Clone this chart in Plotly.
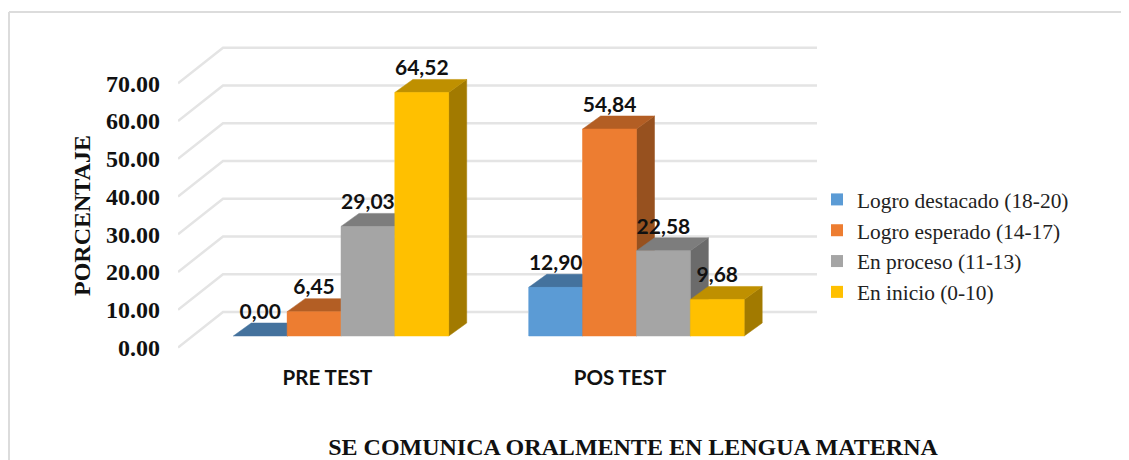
import plotly.graph_objects as go

CATEGORIES = ["PRE TEST", "POS TEST"]
SERIES = ["Logro destacado (18-20)", "Logro esperado (14-17)", "En proceso (11-13)", "En inicio (0-10)"]
V_LOGRO_DESTACADO = [0.00, 12.90]
V_LOGRO_ESPERADO = [6.45, 54.84]
V_EN_PROCESO = [29.03, 22.58]
V_EN_INICIO = [64.52, 9.68]
VALUES = [V_LOGRO_DESTACADO, V_LOGRO_ESPERADO, V_EN_PROCESO, V_EN_INICIO]
Y_TICKS = [0, 10, 20, 30, 40, 50, 60, 70]

FRONT = ["#5b9bd5", "#ed7d31", "#a5a5a5", "#ffc000"]
TOP = ["#44729d", "#b35e24", "#7d7d7d", "#bf9000"]
SIDE = ["#3a6085", "#97511f", "#6b6b6b", "#a27a00"]
GRID = "#e4e4e4"
PAGE = 8                     # the page's body margin
W, H = 1129 - PAGE, 460 - PAGE
fx = lambda p: (p - PAGE) / W
fy = lambda p: 1 - (p - PAGE) / H

# pixel calibration of the plot area (page pixels)
PX_L, PX_R, PX_T, PX_B = 178, 1088, 30, 362
PX_Y0 = 347.5
PX_PER_UNIT = 3.775
PX_PER_CAT = 295.5
PX_CAT0 = 341
xr = [(PX_L - PX_CAT0) / PX_PER_CAT, (PX_R - PX_CAT0) / PX_PER_CAT]
yr = [(PX_Y0 - PX_B) / PX_PER_UNIT, (PX_Y0 - PX_T) / PX_PER_UNIT]
dx_px = lambda p: p / PX_PER_CAT
dy_px = lambda p: p / PX_PER_UNIT

WALL_DX, WALL_DY = dx_px(45), dy_px(35.5)
WALL_R = (817 - PX_CAT0) / PX_PER_CAT
BAR_BASE = dy_px(11.5)
BAR_DX, BAR_DY = dx_px(18), dy_px(13)
BAR_GAP = 0.271
BAR_W = (1 - BAR_GAP) / 4
LABEL_OFF = dy_px(22.5)
TICK_POS = [-0.046, 0.944]

fig = go.Figure()

# real bars (front faces and legend keys)
for s, name in enumerate(SERIES):
    fig.add_trace(go.Bar(
        x=[0, 1], y=VALUES[s], base=BAR_BASE, name=name, legendgroup=name,
        marker=dict(color=FRONT[s], line=dict(width=0)), hoverinfo="skip",
    ))

# gridlines on side wall and back wall
gx, gy = [], []
for t in Y_TICKS:
    gx += [xr[0], xr[0] + WALL_DX, WALL_R, None]
    gy += [t, t + WALL_DY, t + WALL_DY, None]
fig.add_trace(go.Scatter(x=gx, y=gy, mode="lines", line=dict(color=GRID, width=2.5),
                         showlegend=False, hoverinfo="skip"))

def face(xs, ys, color):
    fig.add_trace(go.Scatter(x=xs, y=ys, mode="lines", fill="toself", fillcolor=color,
                             line=dict(color=color, width=0.5), showlegend=False, hoverinfo="skip"))

# 3-D faces, painted left to right so each bar hides the previous bar's side
for c in range(len(CATEGORIES)):
    for s in range(len(SERIES)):
        v = VALUES[s][c]
        x0 = c - 2 * BAR_W + s * BAR_W
        x1 = x0 + BAR_W
        b, t = BAR_BASE, BAR_BASE + v
        face([x1, x1 + BAR_DX, x1 + BAR_DX, x1, x1], [b, b + BAR_DY, t + BAR_DY, t, b], SIDE[s])
        face([x0, x0 + BAR_DX, x1 + BAR_DX, x1, x0], [t, t + BAR_DY, t + BAR_DY, t, t], TOP[s])
        if v > 0:
            face([x0, x1, x1, x0, x0], [b, b, t, t, b], FRONT[s])

# value labels
for c in range(len(CATEGORIES)):
    for s in range(len(SERIES)):
        v = VALUES[s][c]
        fig.add_trace(go.Scatter(
            x=[c - 2 * BAR_W + (s + 0.5) * BAR_W], y=[BAR_BASE + v + LABEL_OFF],
            mode="text", text=[f"{v:.2f}".replace(".", ",")], textposition="middle center",
            textfont=dict(family="Lato", size=21, color="#111111", weight=700),
            showlegend=False, hoverinfo="skip"))

SERIF = "Liberation Serif"
fig.update_layout(
    width=W, height=H, margin=dict(l=0, r=0, t=0, b=0), autosize=False,
    paper_bgcolor="white", plot_bgcolor="white",
    barmode="group", bargap=BAR_GAP, bargroupgap=0,
    xaxis=dict(domain=[fx(PX_L), fx(PX_R)], range=xr, tickmode="array", tickvals=TICK_POS,
               ticktext=CATEGORIES, showgrid=False, zeroline=False, showline=False, ticks="",
               tickfont=dict(family="Lato", size=20.5, color="#111111", weight=700),
               ticklabelstandoff=1,
               title=dict(text="SE COMUNICA ORALMENTE EN LENGUA MATERNA", standoff=52,
                          font=dict(family=SERIF, size=24, color="#111111", weight=700))),
    yaxis=dict(domain=[fy(PX_B), fy(PX_T)], range=yr, tickmode="array", tickvals=Y_TICKS,
               ticktext=[f"{t:.2f}" for t in Y_TICKS], showgrid=False, zeroline=False, showline=False,
               ticks="", ticklabelstandoff=17,
               tickfont=dict(family=SERIF, size=24, color="#111111", weight=700)),
    legend=dict(x=fx(817), y=fy(179), xanchor="left", yanchor="top", bgcolor="rgba(0,0,0,0)",
                font=dict(family=SERIF, size=21.4, color="#222222"), tracegroupgap=5,
                traceorder="normal"),
    annotations=[dict(text="PORCENTAJE", xref="paper", yref="paper", x=fx(82), y=fy(216),
                      textangle=-90, showarrow=False, xanchor="center", yanchor="middle",
                      font=dict(family=SERIF, size=24, color="#111111", weight=700))],
    shapes=[
        dict(type="line", xref="paper", yref="paper", x0=fx(9), x1=1, y0=fy(12), y1=fy(12),
             line=dict(color="#dcdcdc", width=2), layer="below"),
        dict(type="line", xref="paper", yref="paper", x0=fx(9), x1=fx(9), y0=0, y1=fy(12),
             line=dict(color="#dcdcdc", width=2), layer="below"),
    ],
)
fig.write_html("out.html")
